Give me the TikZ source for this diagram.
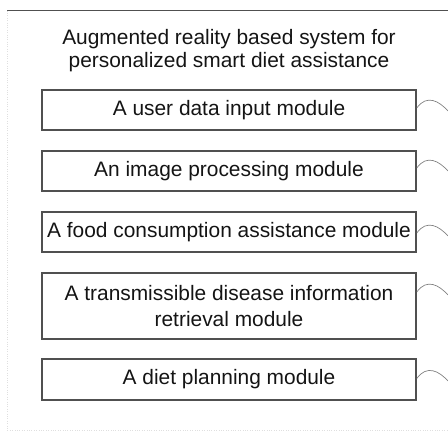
\documentclass[tikz,border=0pt]{standalone}
\usepackage{fontspec}
\setmainfont{Liberation Sans}
\usetikzlibrary{positioning}
\definecolor{boxgray}{RGB}{80,80,80}
\definecolor{inkgray}{RGB}{20,20,20}

\begin{document}
\begin{tikzpicture}[x=1pt, y=-1pt,
		every node/.style={text=inkgray, font=\fontsize{20.9}{26}\selectfont},
		module/.style={draw=boxgray, line width=1.6pt, minimum width=374pt, minimum height=40pt, inner sep=0pt, align=center},
		leader/.style={draw=gray, line width=0.7pt}]
		\useasboundingbox (0,0) rectangle (448,431);
		% frame
		\draw[line width=1.6pt, boxgray] (7,10.5) -- (448,10.5);
		\draw[dotted, gray!25] (7,10.5) -- (7,430) -- (448,430);
	\node[align=center, font=\fontsize{20.9}{23}\selectfont] (0) at (229,51) {Augmented reality based system for\\personalized smart diet assistance};

	\node[module] (1) at (229,110) {A user data input module};
	\node[module] (2) at (229,171) {An image processing module};
	\node[module] (3) at (229,232) {A food consumption assistance module};
	\node[module, minimum height=66pt] (4) at (229,306) {A transmissible disease information\\retrieval module};
	\node[module, minimum height=41pt] (5) at (229,379.5) {A diet planning module};

		\coordinate (e1) at (448,111);
		\coordinate (e2) at (448,171);
		\coordinate (e3) at (448,236);
		\coordinate (e4) at (448,295);
		\coordinate (e5) at (448,381);
		\draw[leader] ([yshift=2pt]1.east) .. controls +(10,-14) and +(-9,-10) .. (e1);
		\draw[leader] ([yshift=3pt]2.east) .. controls +(10,-14) and +(-9,-10) .. (e2);
		\draw[leader] ([yshift=-1pt]3.east) .. controls +(10,-14) and +(-9,-10) .. (e3);
		\draw[leader] ([yshift=14pt]4.east) .. controls +(10,-14) and +(-9,-10) .. (e4);
		\draw[leader] ([yshift=1pt]5.east) .. controls +(10,-14) and +(-9,-10) .. (e5);
	\end{tikzpicture}
\end{document}
